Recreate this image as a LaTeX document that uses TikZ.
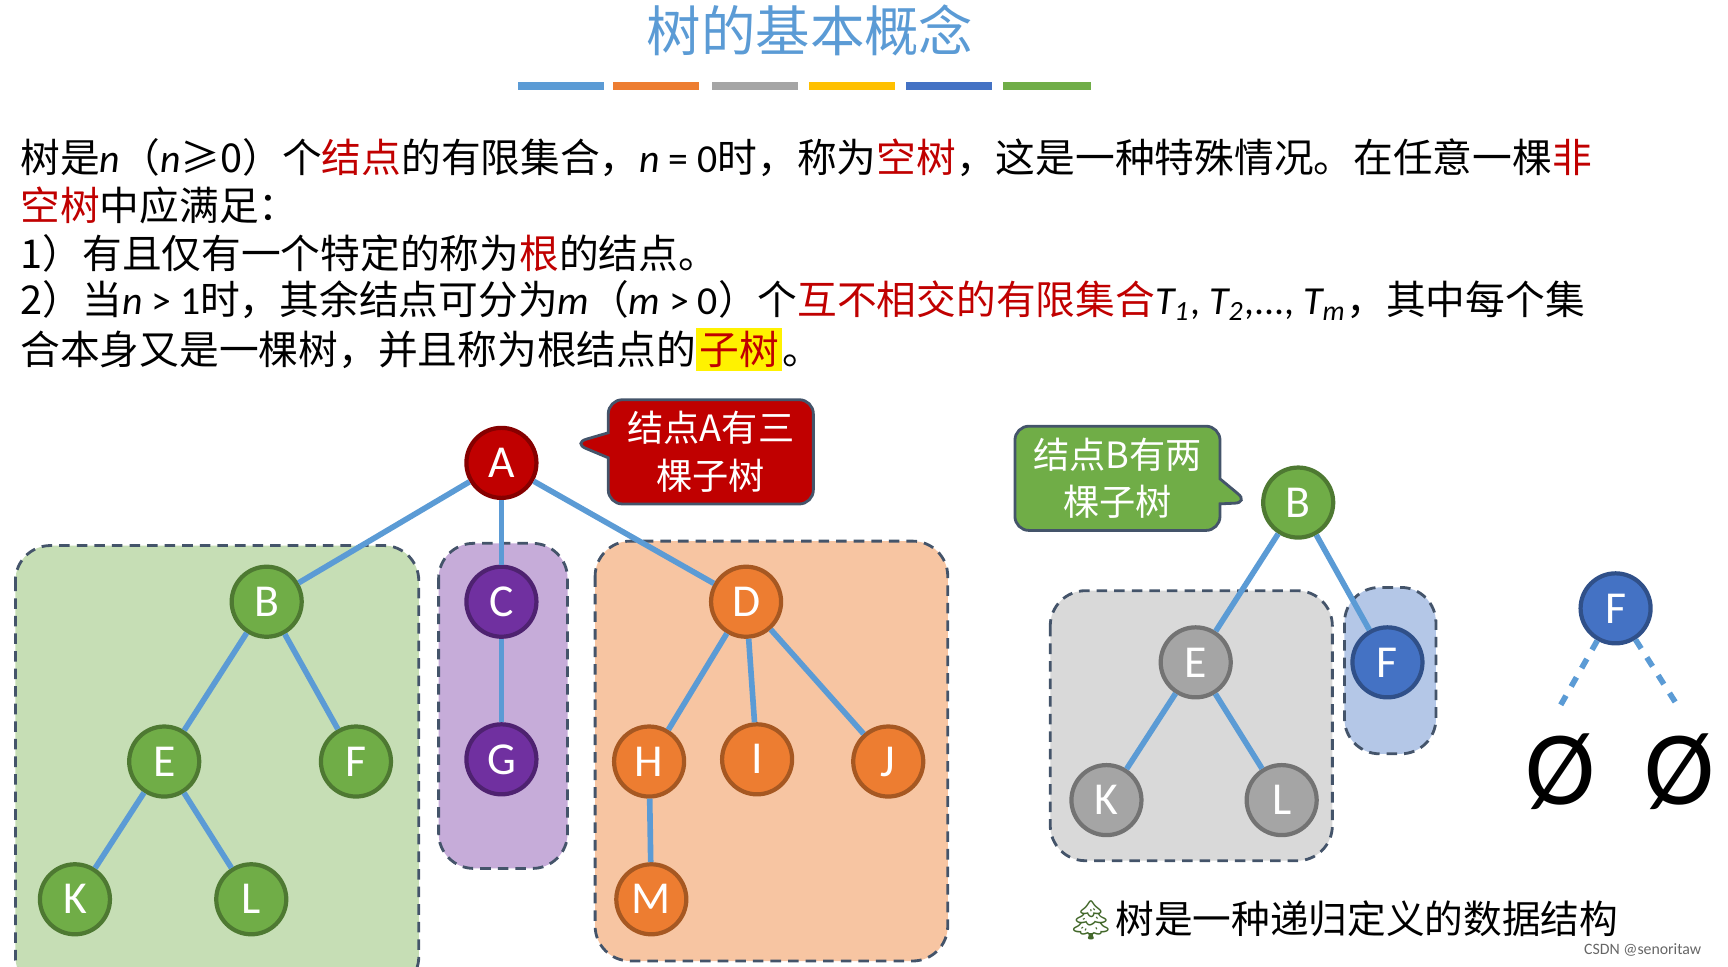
\documentclass[tikz,border=0pt]{standalone}
\usepackage{fontspec}
\setmainfont{Noto Sans CJK SC}
\newfontfamily\lat{Carlito}
\newfontfamily\emoji{Noto Emoji}
\usetikzlibrary{shapes.callouts, positioning}
\definecolor{TitleBlue}{HTML}{5B9BD5}
\definecolor{RootRed}{HTML}{C00000}
\definecolor{LeafGreen}{HTML}{70AD47}
\definecolor{Grape}{HTML}{7030A0}
\definecolor{Pumpkin}{HTML}{ED7D31}
\definecolor{Stone}{HTML}{A5A5A5}
\definecolor{Ocean}{HTML}{4472C4}
\definecolor{Gold}{HTML}{FFC000}
\definecolor{Slate}{HTML}{44546A}
\newcommand{\hl}[1]{\textcolor{RootRed}{#1}}
\newcommand{\vi}[1]{{\lat\itshape #1}}
\newcommand{\vsub}[2]{{\lat\itshape #1\textsubscript{#2}}}
\tikzset{
  treenode/.style={circle, draw=#1!70!black, fill=#1, line width=1.2pt,
                   minimum size=0.7cm, inner sep=0pt, text=white,
                   font=\lat\fontsize{13}{13}\selectfont},
  edge/.style={draw=TitleBlue, line width=1.6pt},
  subtree/.style={draw=Slate, dash pattern=on 3pt off 2pt, line width=0.8pt, rounded corners=10pt, fill=#1},
  textline/.style={anchor=west, inner sep=0pt, font=\fontsize{11.3}{12}\selectfont},
  note/.style={rectangle callout, fill=#1, draw=Slate, line width=0.8pt, rounded corners=4pt,
               text=white, align=center, minimum width=2.05cm, minimum height=0.98cm,
               font=\fontsize{10.3}{13.5}\selectfont},
  bar/.style={fill=#1, draw=none}
}
\begin{document}
\begin{tikzpicture}[x=0.01102cm, y=-0.01102cm]
    \useasboundingbox (0,0) rectangle (1568,877);

    % title and colour bars
    \node[text=TitleBlue, font=\fontsize{15.5}{16}\selectfont] (title) at (735,28) {树的基本概念};
    \foreach \xa/\xb/\c in {470/548/TitleBlue, 556/634/Pumpkin, 646/724/Stone,
                            734/812/Gold, 822/900/Ocean, 910/990/LeafGreen}
        \fill[bar=\c] (\xa,74) rectangle (\xb,82);

    % definition text
    \node[textline] (l1) at (18,143) {树是\vi{n}（\vi{n}≥0）个\hl{结点}的有限集合，\vi{n} {\lat=} {\lat 0}时，称为\hl{空树}，这是一种特殊情况。在任意一棵\hl{非}};
    \node[textline] (l2) at (18,186) {\hl{空树}中应满足：};
    \node[textline] (l3) at (18,230) {1）有且仅有一个特定的称为\hl{根}的结点。};
    \node[textline] (l4) at (18,273) {2）当\vi{n} {\lat >} {\lat 1}时，其余结点可分为\vi{m}（\vi{m} {\lat >} {\lat 0}）个\hl{互不相交的有限集合}\vsub{T}{1}{\lat, }\vsub{T}{2}{\lat,..., }\vsub{T}{m}，其中每个集};
    \node[textline] (l5) at (18,317) {合本身又是一棵树，并且称为根结点的{\fboxsep=1pt\colorbox{yellow}{\hl{子树}}}。};

    % subtree boxes
    \filldraw[subtree=LeafGreen!40] (14,495) rectangle (380,900);
    \filldraw[subtree=Grape!40] (398,493) rectangle (515,788);
    \filldraw[subtree=Pumpkin!45] (540,491) rectangle (860,872);
    \filldraw[subtree=black!15] (953,536) rectangle (1209,781);
    \filldraw[subtree=Ocean!40] (1220,533) rectangle (1303,684);

    % left tree
    \node[treenode=RootRed] (A) at (455,420) {A};
    \node[treenode=LeafGreen] (B) at (242,546) {B};
    \node[treenode=Grape] (C) at (455,546) {C};
    \node[treenode=Pumpkin] (D) at (677,546) {D};
    \node[treenode=LeafGreen] (E) at (149,691) {E};
    \node[treenode=LeafGreen] (F) at (323,691) {F};
    \node[treenode=Grape] (G) at (455,689) {G};
    \node[treenode=Pumpkin] (H) at (589,691) {H};
    \node[treenode=Pumpkin] (I) at (687,689) {I};
    \node[treenode=Pumpkin] (J) at (806,691) {J};
    \node[treenode=LeafGreen] (K) at (68,816) {K};
    \node[treenode=LeafGreen] (L) at (228,816) {L};
    \node[treenode=Pumpkin] (M) at (591,816) {M};
    \foreach \u/\v in {A/B, A/C, A/D, B/E, B/F, C/G, D/H, D/I, D/J, E/K, E/L, H/M}
        \draw[edge] (\u) -- (\v);

    % right tree
    \node[treenode=LeafGreen] (rB) at (1178,456) {B};
    \node[treenode=Stone] (rE) at (1085,601) {E};
    \node[treenode=Ocean] (rF) at (1259,601) {F};
    \node[treenode=Stone] (rK) at (1004,726) {K};
    \node[treenode=Stone] (rL) at (1163,726) {L};
    \foreach \u/\v in {rB/rE, rB/rF, rE/rK, rE/rL}
        \draw[edge] (\u) -- (\v);

    % leaf with empty subtrees
    \node[treenode=Ocean] (leaf) at (1466,552) {F};
    \node[font=\lat\fontsize{30}{30}\selectfont] (none1) at (1416,700) {Ø};
    \node[font=\lat\fontsize{30}{30}\selectfont] (none2) at (1524,700) {Ø};
    \coordinate (n1) at (1416,640);
    \coordinate (n2) at (1522,640);
    \draw[edge, dashed] (leaf) -- (n1);
    \draw[edge, dashed] (leaf) -- (n2);

    % callouts
    \node[note=RootRed, callout absolute pointer={(520,402)}] (noteA) at (645,410) {结点A有三\\棵子树};
    \node[note=LeafGreen, callout absolute pointer={(1133,456)}] (noteB) at (1014,434) {结点B有两\\棵子树};

    % footer
    \node[font=\fontsize{11}{12}\selectfont] (recur) at (1218,835) {{\emoji\textcolor{LeafGreen!60!black}{🌲}}树是一种递归定义的数据结构};
    \node[font=\lat\fontsize{4.5}{5}\selectfont, text=black!60, anchor=east] (mark) at (1555,862) {CSDN @senoritaw};
\end{tikzpicture}
\end{document}
